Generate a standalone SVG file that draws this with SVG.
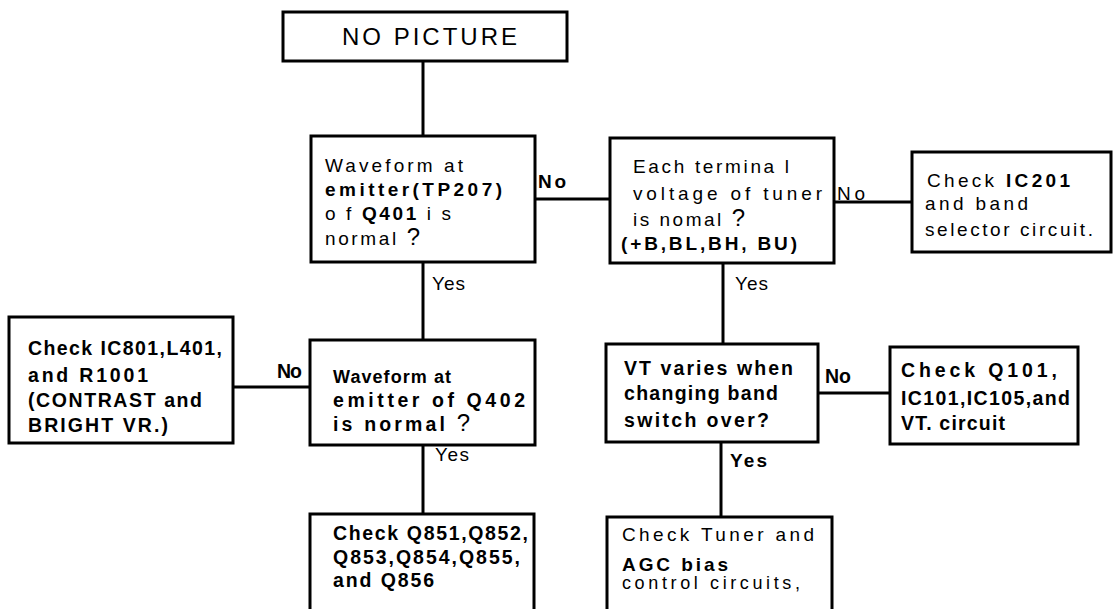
<svg xmlns="http://www.w3.org/2000/svg" width="1114" height="609" viewBox="0 0 1114 609">
  <style>
    .box { fill: #fff; stroke: #000; stroke-width: 3; }
    .wire { fill: none; stroke: #000; stroke-width: 3; }
    text { font-family: "Liberation Sans", Arial, Helvetica, sans-serif; font-size: 19px; fill: #000; }
    .b { font-weight: bold; }
    .s { font-size: 19.5px; }
    .q { font-size: 24px; }
  </style>
  <rect width="1114" height="609" fill="#fff"/>

  <!-- connectors and branch labels -->
  <g id="connectors">
    <path class="wire" d="M423 61 V136"/>
    <path class="wire" d="M535 199 H610"/>
    <path class="wire" d="M834 202 H912"/>
    <path class="wire" d="M423 262 V340"/>
    <path class="wire" d="M233 387 H310"/>
    <path class="wire" d="M423 445 V514"/>
    <path class="wire" d="M723 263 V344"/>
    <path class="wire" d="M818 393 H890"/>
    <path class="wire" d="M721 442 V517"/>
    <text x="538" y="188" class="b" textLength="28" lengthAdjust="spacing">No</text>
    <text x="837" y="200" textLength="28" lengthAdjust="spacing">No</text>
    <text x="432" y="290" textLength="33" lengthAdjust="spacing">Yes</text>
    <text x="735" y="290" textLength="33" lengthAdjust="spacing">Yes</text>
    <text x="277" y="378" class="b s" textLength="25" lengthAdjust="spacing">No</text>
    <text x="825" y="383" class="b s" textLength="26" lengthAdjust="spacing">No</text>
    <text x="435" y="461" textLength="34" lengthAdjust="spacing">Yes</text>
    <text x="730" y="467" class="b" textLength="37" lengthAdjust="spacing">Yes</text>
  </g>

  <g id="start">
    <rect class="box" x="283" y="12" width="284" height="49"/>
    <text x="342" y="45" style="font-size:24px" textLength="175" lengthAdjust="spacing">NO PICTURE</text>
  </g>

  <g id="q401">
    <rect class="box" x="311" y="136" width="224" height="126"/>
    <text x="325" y="172" textLength="138" lengthAdjust="spacing">Waveform at</text>
    <text x="325" y="196" class="b" textLength="177" lengthAdjust="spacing">emitter(TP207)</text>
    <text x="325" y="220" textLength="126" lengthAdjust="spacing">o f <tspan class="b">Q401</tspan> i s</text>
    <text x="325" y="245" textLength="95" lengthAdjust="spacing">normal <tspan class="q">?</tspan></text>
  </g>

  <g id="tuner-voltage">
    <rect class="box" x="610" y="138" width="224" height="125"/>
    <text x="633" y="173" textLength="156" lengthAdjust="spacing">Each termina l</text>
    <text x="633" y="200" textLength="189" lengthAdjust="spacing">voltage of tuner</text>
    <text x="633" y="226" textLength="112" lengthAdjust="spacing">is nomal <tspan class="q">?</tspan></text>
    <text x="621" y="250" class="b" textLength="176" lengthAdjust="spacing">(+B,BL,BH, BU)</text>
  </g>

  <g id="ic201">
    <rect class="box" x="912" y="152" width="199" height="100"/>
    <text x="927" y="187" textLength="143" lengthAdjust="spacing">Check <tspan class="b">IC201</tspan></text>
    <text x="925" y="210" textLength="103" lengthAdjust="spacing">and band</text>
    <text x="925" y="236" textLength="168" lengthAdjust="spacing">selector  circuit.</text>
  </g>

  <g id="ic801">
    <rect class="box" x="9" y="317" width="224" height="126"/>
    <text x="28" y="355" class="b s" textLength="194" lengthAdjust="spacing">Check IC801,L401,</text>
    <text x="28" y="382" class="b s" textLength="120" lengthAdjust="spacing">and R1001</text>
    <text x="28" y="407" class="b s" textLength="174" lengthAdjust="spacing">(CONTRAST and</text>
    <text x="28" y="432" class="b s" textLength="140" lengthAdjust="spacing">BRIGHT VR.)</text>
  </g>

  <g id="q402">
    <rect class="box" x="310" y="340" width="225" height="105"/>
    <text x="333" y="383" class="b" style="font-size:18px" textLength="118" lengthAdjust="spacing">Waveform at</text>
    <text x="333" y="407" class="b s" textLength="192" lengthAdjust="spacing">emitter of Q402</text>
    <text x="333" y="431" class="b s" textLength="137" lengthAdjust="spacing">is normal <tspan class="q" style="font-weight:normal">?</tspan></text>
  </g>

  <g id="vt">
    <rect class="box" x="606" y="344" width="212" height="98"/>
    <text x="624" y="375" class="b s" textLength="169" lengthAdjust="spacing">VT varies when</text>
    <text x="624" y="400" class="b s" textLength="154" lengthAdjust="spacing">changing band</text>
    <text x="624" y="427" class="b s" textLength="145" lengthAdjust="spacing">switch over?</text>
  </g>

  <g id="q101">
    <rect class="box" x="890" y="347" width="188" height="97"/>
    <text x="901" y="377" class="b s" textLength="156" lengthAdjust="spacing">Check Q101,</text>
    <text x="901" y="405" class="b s" textLength="169" lengthAdjust="spacing">IC101,IC105,and</text>
    <text x="901" y="430" class="b s" textLength="104" lengthAdjust="spacing">VT. circuit</text>
  </g>

  <g id="q851">
    <rect class="box" x="310" y="514" width="224" height="100"/>
    <text x="333" y="540" class="b s" textLength="195" lengthAdjust="spacing">Check Q851,Q852,</text>
    <text x="333" y="564" class="b s" textLength="187" lengthAdjust="spacing">Q853,Q854,Q855,</text>
    <text x="333" y="587" class="b s" textLength="101" lengthAdjust="spacing">and Q856</text>
  </g>

  <g id="agc">
    <rect class="box" x="607" y="517" width="225" height="100"/>
    <text x="622" y="541" textLength="192" lengthAdjust="spacing">Check Tuner and</text>
    <text x="622" y="571" class="b" textLength="106" lengthAdjust="spacing">AGC bias</text>
    <text x="622" y="589" style="font-size:18px" textLength="178" lengthAdjust="spacing">control circuits,</text>
  </g>
</svg>
